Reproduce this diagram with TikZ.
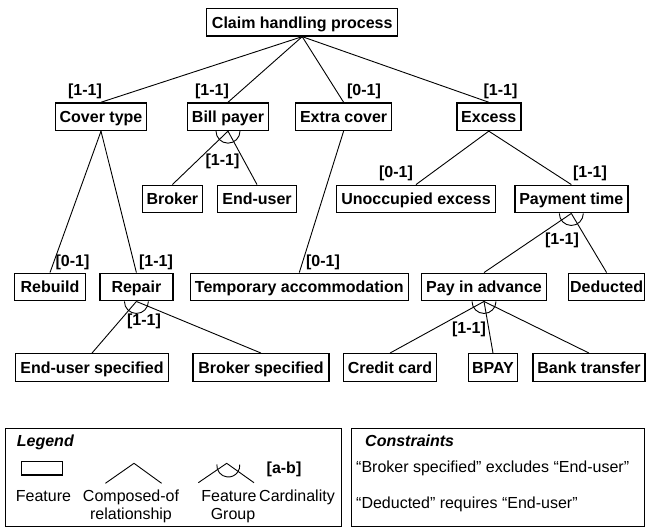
\documentclass[tikz,border=0pt]{standalone}
\usepackage{fontspec}
\setmainfont{Liberation Sans}
\begin{document}
\begin{tikzpicture}[x=1pt,y=-1pt,
  feat/.style={draw, line width=1.4pt, inner sep=0pt, minimum height=27.5pt,
    font=\fontsize{16}{19}\selectfont\bfseries, text height=11.7pt, text depth=0pt},
  card/.style={inner sep=0pt, font=\fontsize{16}{19}\selectfont\bfseries},
  link/.style={line width=0.9pt},
  grouparc/.style={line width=0.9pt},
  plain/.style={inner sep=0pt, anchor=base, font=\fontsize{16}{19}\selectfont},
  heading/.style={inner sep=0pt, anchor=base west, font=\fontsize{16}{19}\selectfont\bfseries\itshape},
  frame/.style={draw, line width=1pt}]
\fill[white] (0,0) rectangle (651,531);
\useasboundingbox (0,0) rectangle (651,531);

% features
\node[feat, minimum width=191pt] (root) at (302.2,22.2) {Claim handling process};
\node[feat, minimum width=91pt] (cover) at (101,116.7) {Cover type};
\node[feat, minimum width=81pt] (bill) at (228,116.7) {Bill payer};
\node[feat, minimum width=96pt] (extra) at (343.6,116.7) {Extra cover};
\node[feat, minimum width=64pt] (excess) at (488.8,116.7) {Excess};
\node[feat, minimum width=60pt] (broker) at (172.4,199) {Broker};
\node[feat, minimum width=79pt] (enduser) at (257,199) {End-user};
\node[feat, minimum width=159pt] (unocc) at (416,199) {Unoccupied excess};
\node[feat, minimum width=113pt] (paytime) at (571.3,199) {Payment time};
\node[feat, minimum width=71pt] (rebuild) at (50,287) {Rebuild};
\node[feat, minimum width=73pt] (repair) at (136.4,287) {Repair};
\node[feat, minimum width=218pt] (temp) at (299.3,287) {Temporary accommodation};
\node[feat, minimum width=125pt] (payadv) at (484,287) {Pay in advance};
\node[feat, minimum width=76pt] (deducted) at (606.6,287) {Deducted};
\node[feat, minimum width=153pt] (eus) at (92,367.5) {End-user specified};
\node[feat, minimum width=136pt] (bs) at (261,367.5) {Broker specified};
\node[feat, minimum width=92.5pt] (cc) at (390,367.5) {Credit card};
\node[feat, minimum width=49pt] (bpay) at (493,367.5) {BPAY};
\node[feat, minimum width=112pt] (bank) at (589,367.5) {Bank transfer};

% composed-of relationships
\foreach \c in {cover,bill,extra,excess} \draw[link] (root.south) -- (\c.north);
\foreach \c in {rebuild,repair} \draw[link] (cover.south) -- (\c.north);
\draw[link] (extra.south) -- (temp.north);
\foreach \c in {unocc,paytime} \draw[link] (excess.south) -- (\c.north);
% feature groups
\foreach \c in {broker,enduser} \draw[link] (bill.south) -- (\c.north);
\foreach \c in {payadv,deducted} \draw[link] (paytime.south) -- (\c.north);
\foreach \c in {eus,bs} \draw[link] (repair.south) -- (\c.north);
\foreach \c in {cc,bpay,bank} \draw[link] (payadv.south) -- (\c.north);
\foreach \p in {bill,paytime,repair,payadv}
  \draw[grouparc] (\p.south) ++(-12pt,0) arc[start angle=180,end angle=360,radius=12pt];

% cardinalities
\node[card] (k1) at (85,91.7) {[1-1]};
\node[card] (k2) at (212,91.7) {[1-1]};
\node[card] (k3) at (364,91.7) {[0-1]};
\node[card] (k4) at (500.5,91.7) {[1-1]};
\node[card] (k5) at (222.5,161.5) {[1-1]};
\node[card] (k6) at (396,173.5) {[0-1]};
\node[card] (k7) at (590,173.5) {[1-1]};
\node[card] (k8) at (562,240) {[1-1]};
\node[card] (k9) at (72.5,262.5) {[0-1]};
\node[card] (k10) at (156,262.5) {[1-1]};
\node[card] (k11) at (323,262.5) {[0-1]};
\node[card] (k12) at (144,321.5) {[1-1]};
\node[card] (k13) at (469,329.5) {[1-1]};

% legend
\draw[frame] (5,428.5) rectangle (341.7,526);
\node[heading] (legtitle) at (16.7,446) {Legend};
\draw[line width=1.3pt] (21.7,461.7) rectangle (62.5,475);
\node[plain] (legfeat) at (43.5,501.7) {Feature};
\draw[link] (105.4,483.3) -- (134,463.3) -- (161.6,483.3);
\node[plain] (legcomp) at (131,501.7) {Composed-of};
\node[plain] (legrel) at (131,519) {relationship};
\draw[link] (198.3,482.7) -- (226.7,463.3) -- (254,482.7);
\draw[grouparc] (228.3,465.5) ++(175:11.5pt) arc[start angle=175,end angle=365,radius=11.5pt];
\node[plain] (leggrp) at (229,501.7) {Feature};
\node[plain] (leggrp2) at (233,519) {Group};
\node[card] (legab) at (284,469) {[a-b]};
\node[plain] (legcard) at (297,501.7) {Cardinality};

% constraints
\draw[frame] (351.7,428.5) rectangle (644,526);
\node[heading] (contitle) at (365,446) {Constraints};
\node[plain, anchor=base west] (con1) at (356,472) {“Broker specified” excludes “End-user”};
\node[plain, anchor=base west] (con2) at (356,508) {“Deducted” requires “End-user”};
\end{tikzpicture}
\end{document}
